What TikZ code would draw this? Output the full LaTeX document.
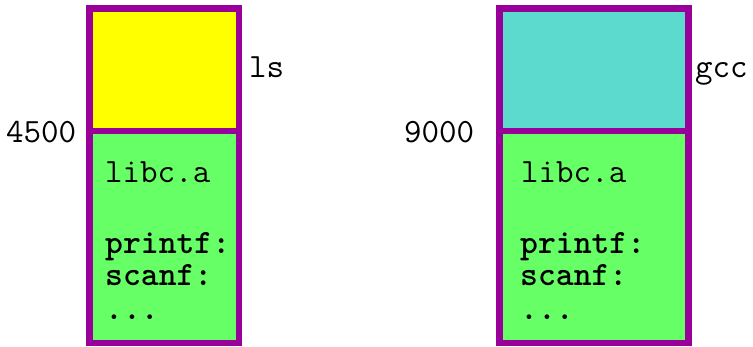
\documentclass[tikz,border=0pt]{standalone}
\definecolor{frame}{HTML}{990099}
\definecolor{lsyellow}{HTML}{FFFF00}
\definecolor{gccteal}{HTML}{5CDACE}
\definecolor{libgreen}{HTML}{66FF66}
\begin{document}
\begin{tikzpicture}[x=1pt,y=-1pt,
  seg/.style={draw=frame, line width=6.5pt, inner sep=0pt, outer sep=0pt, anchor=north west},
  mono/.style={font=\fontsize{34}{32}\selectfont\ttfamily, inner sep=0pt, anchor=base west},
  monob/.style={font=\fontsize{34}{32}\selectfont\ttfamily\bfseries, inner sep=0pt, anchor=base west}]
\useasboundingbox (0,0) rectangle (753,347);
% left process
\node[seg, fill=libgreen, minimum width=149.5pt, minimum height=212pt] (llib) at (89.5,131) {};
\node[seg, fill=lsyellow, minimum width=149.5pt, minimum height=122.5pt] (lprog) at (89.5,8.5) {};
% right process
\node[seg, fill=libgreen, minimum width=189pt, minimum height=212pt] (rlib) at (499.5,131) {};
\node[seg, fill=gccteal, minimum width=189pt, minimum height=122.5pt] (rprog) at (499.5,8.5) {};
% labels
\node[mono] (lsname) at (249,78) {ls};
\node[mono] (gccname) at (695,78) {gcc};
\node[mono] (laddr) at (6,143) {4500};
\node[mono] (raddr) at (404,143) {9000};
% left library contents
\node[mono] (llibname) at (105,183) {libc.a};
\node[monob] (lprintf) at (105,254) {printf:};
\node[monob] (lscanf) at (105,286) {scanf:};
\node[monob] (ldots) at (105,320) {...};
% right library contents
\node[mono] (rlibname) at (521,183) {libc.a};
\node[monob] (rprintf) at (520,254) {printf:};
\node[monob] (rscanf) at (520,286) {scanf:};
\node[monob] (rdots) at (520,320) {...};
\end{tikzpicture}
\end{document}
